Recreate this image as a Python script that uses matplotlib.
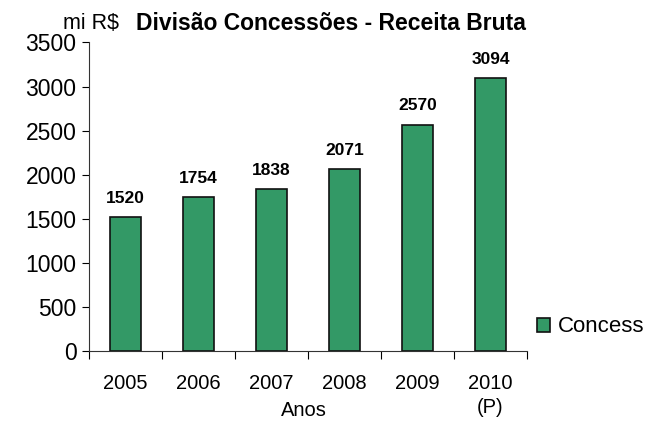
import numpy as np
from matplotlib import pyplot as plt

plt.rcParams['font.family'] = ['Liberation Sans', 'DejaVu Sans']

# receita bruta por ano (mi R$)
anos = ['2005', '2006', '2007', '2008', '2009', '2010\n(P)']
receita = [1520, 1754, 1838, 2071, 2570, 3094]
serie = 'Concess'
yticks = [0, 500, 1000, 1500, 2000, 2500, 3000, 3500]

verde = '#339966'

fig = plt.figure(figsize=(6.5, 4.24), dpi=100)
ax = fig.add_axes([0.1369, 0.171, 0.6738, 0.7288])

x = np.arange(len(anos))
bars = ax.bar(x, receita, width=0.42, color=verde, edgecolor='#111111',
              linewidth=1.2, label=serie)

# bar value labels
for xi, v in zip(x, receita):
    ax.annotate(f'{v}', (xi, v), xytext=(0, 8), textcoords='offset points',
                ha='center', va='bottom', fontsize=12.5, fontweight='bold')

ax.set_xlim(-0.5, len(anos) - 0.5)
ax.set_ylim(0, 3500)
ax.set_yticks(yticks)
ax.tick_params(axis='y', labelsize=16.5, length=5, width=0.8, pad=4)

# category labels centred, ticks on boundaries
ax.set_xticks(x)
ax.set_xticklabels(anos, fontsize=14.5, linespacing=1.35, va='top')
ax.tick_params(axis='x', which='major', length=0, pad=16)
ax.set_xticks(np.arange(len(anos) + 1) - 0.5, minor=True)
ax.tick_params(axis='x', which='minor', length=6, width=0.8, direction='out')

for s in ['top', 'right']:
    ax.spines[s].set_visible(False)
for s in ['left', 'bottom']:
    ax.spines[s].set_linewidth(0.8)
    ax.spines[s].set_color('#333333')

ax.text(0.49, -0.16, 'Anos', transform=ax.transAxes, ha='center', va='top',
        fontsize=14.5)

fig.text(0.097, 0.945, 'mi R$', fontsize=15.5, va='center', ha='left')
fig.text(0.209, 0.945, 'Divisão Concessões - Receita Bruta', fontsize=16.5,
         fontweight='bold', va='center', ha='left')

fig.legend(handles=[bars], labels=[serie], loc='center left',
           bbox_to_anchor=(0.826, 0.229), frameon=False, fontsize=16,
           handlelength=0.6, handleheight=0.6, handletextpad=0.36,
           borderaxespad=0, borderpad=0)

fig.savefig('out.png', dpi=100)
